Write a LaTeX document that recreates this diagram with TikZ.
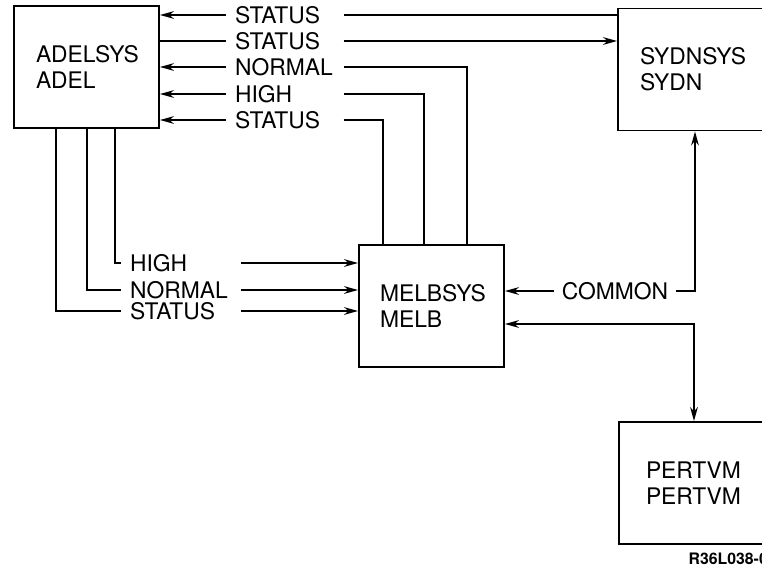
\documentclass[tikz,border=0pt]{standalone}
\usepackage{fontspec}
\setmainfont{TeX Gyre Heros}
\usetikzlibrary{arrows.meta}

\begin{document}
\begin{tikzpicture}[x=0.02cm,y=-0.02cm,>={Stealth[length=8pt,width=4.4pt]},line width=0.8pt,
  font=\fontsize{13}{14.7}\selectfont,
  sysbox/.style={draw,line width=1.1pt,align=left,minimum height=2.44cm,inner xsep=0.44cm,text width=2.02cm},
  msg/.style={inner xsep=0.16cm,inner ysep=0pt,text width=2cm,align=left}]
\useasboundingbox (0,0) rectangle (762,569);
% systems
\node[sysbox] (adel) at (86.5,67) {ADELSYS\\ADEL};
\node[sysbox,text width=2.56cm] (sydn) at (704,69.5) {SYDNSYS\\SYDN};
\node[sysbox,inner xsep=0.42cm,text width=2.06cm] (melb) at (431.5,306) {MELBSYS\\MELB};
\node[sysbox,inner xsep=0.54cm,text width=2.34cm] (pert) at (704.5,483) {PERTVM\\PERTVM};
% message labels, upper column
\node[msg] (ta) at (285,15) {STATUS};
\node[msg] (tb) at (285,41) {STATUS};
\node[msg] (tc) at (285,67) {NORMAL};
\node[msg] (td) at (285,94) {HIGH};
\node[msg] (te) at (285,120) {STATUS};
% message labels, lower column
\node[msg,text width=2.04cm] (ba) at (181,263) {HIGH};
\node[msg,text width=2.04cm] (bb) at (181,290) {NORMAL};
\node[msg,text width=2.04cm] (bc) at (181,311) {STATUS};
\node[inner xsep=0.14cm,inner ysep=0pt] (cm) at (615,291) {COMMON};
\node[font=\bfseries\fontsize{9}{10}\selectfont,anchor=west,inner sep=0pt] (ref) at (688,559) {R36L038-0};
% ADEL <-> SYDN
\draw[<-] (adel.east |- ta) -- (ta.west);
\draw (ta.east) -- (sydn.west |- ta);
\draw (adel.east |- tb) -- (tb.west);
\draw[->] (tb.east) -- (sydn.west |- tb);
% MELB -> ADEL
\draw[<-] (adel.east |- tc) -- (tc.west);
\draw (tc.east) -| (melb.north -| 467,0);
\draw[<-] (adel.east |- td) -- (td.west);
\draw (td.east) -| (melb.north -| 424,0);
\draw[<-] (adel.east |- te) -- (te.west);
\draw (te.east) -| (melb.north -| 383,0);
% ADEL -> MELB
\draw (adel.south -| 115,0) |- (ba.west);
\draw[->] (ba.east) -- (melb.west |- ba);
\draw (adel.south -| 87,0) |- (bb.west);
\draw[->] (bb.east) -- (melb.west |- bb);
\draw (adel.south -| 56,0) |- (bc.west);
\draw[->] (bc.east) -- (melb.west |- bc);
% MELB <-> SYDN, PERT
\draw[<-] (melb.east |- cm) -- (cm.west);
\draw[->] (cm.east) -| (sydn.south -| 695,0);
\draw[<->] (melb.east |- 0,324) -| (pert.north -| 694,0);
\end{tikzpicture}
\end{document}
